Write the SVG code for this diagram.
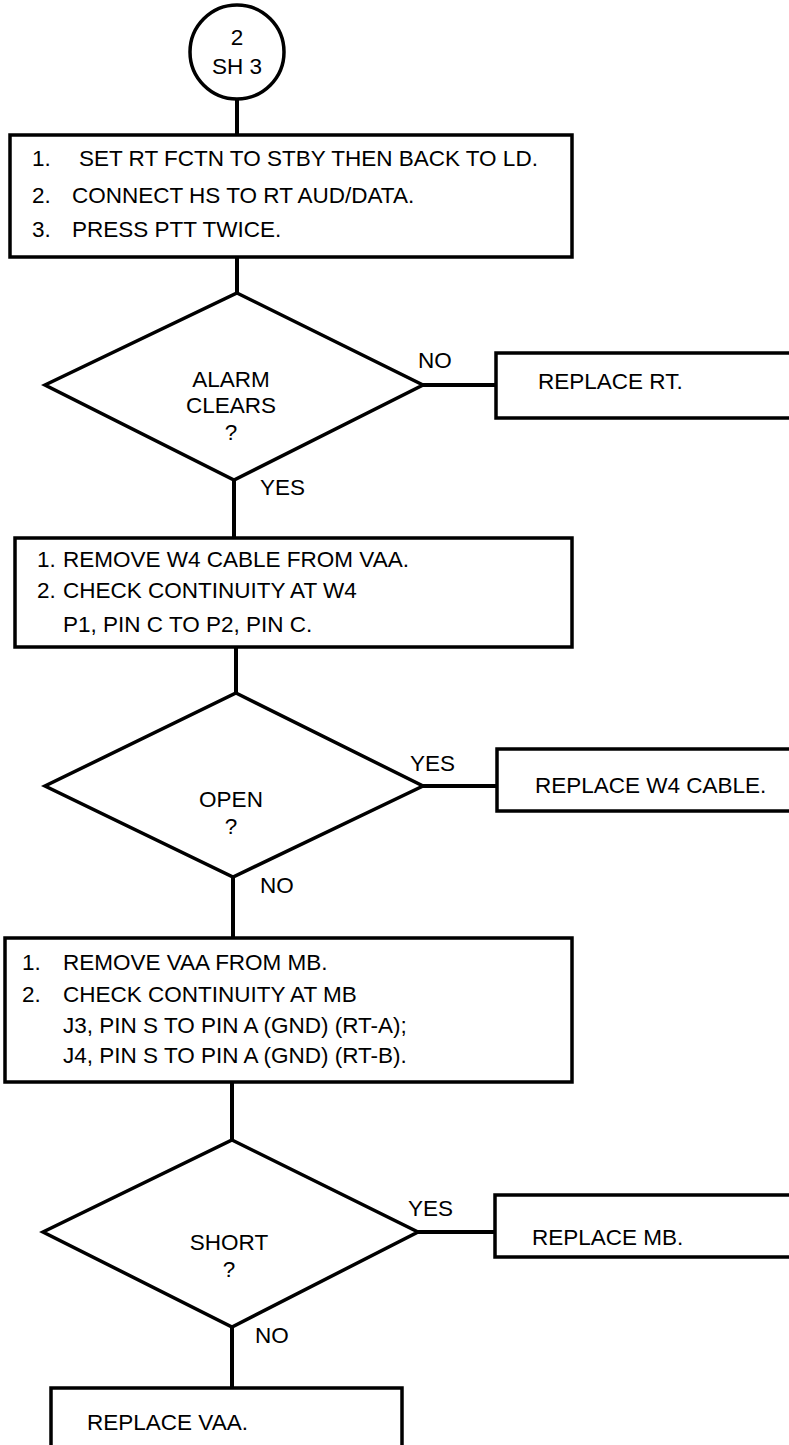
<svg xmlns="http://www.w3.org/2000/svg" width="789" height="1445" viewBox="0 0 789 1445">
<style>
.s{fill:#fff;stroke:#000;stroke-width:3.5}
.c{fill:none;stroke:#000;stroke-width:4}
text{font-family:"Liberation Sans",Arial,sans-serif;font-size:22.5px;fill:#000}
.m{text-anchor:middle}
</style>
<rect width="789" height="1445" fill="#fff"/>
<g id="connectors">
<line class="c" x1="237" y1="99" x2="237" y2="135"/>
<line class="c" x1="237" y1="257" x2="237" y2="293"/>
<line class="c" x1="423" y1="385" x2="496" y2="385"/>
<line class="c" x1="234" y1="480" x2="234" y2="538"/>
<line class="c" x1="236" y1="647" x2="236" y2="693"/>
<line class="c" x1="423" y1="786" x2="497" y2="786"/>
<line class="c" x1="233" y1="877" x2="233" y2="938"/>
<line class="c" x1="232" y1="1082" x2="232" y2="1140"/>
<line class="c" x1="418" y1="1232" x2="495" y2="1232"/>
<line class="c" x1="232" y1="1327" x2="232" y2="1388"/>
</g>
<g id="start">
<circle class="s" cx="237" cy="52" r="47"/>
<text class="m" x="237" y="45">2</text>
<text class="m" x="237" y="74">SH 3</text>
</g>
<g id="step1">
<rect class="s" x="10" y="135" width="562" height="122"/>
<text y="166"><tspan x="32">1.</tspan><tspan x="79">SET RT FCTN TO STBY THEN BACK TO LD.</tspan></text>
<text y="203"><tspan x="32">2.</tspan><tspan x="72">CONNECT HS TO RT AUD/DATA.</tspan></text>
<text y="237"><tspan x="32">3.</tspan><tspan x="72">PRESS PTT TWICE.</tspan></text>
</g>
<g id="dec1">
<polygon class="s" points="237,293 423,385 234,480 45,385"/>
<text class="m" x="231" y="387">ALARM</text>
<text class="m" x="231" y="413">CLEARS</text>
<text class="m" x="231" y="440">?</text>
</g>
<text x="418" y="368">NO</text>
<text x="260" y="495">YES</text>
<g id="replaceRT">
<rect class="s" x="496" y="353" width="310" height="65"/>
<text x="538" y="389">REPLACE RT.</text>
</g>
<g id="step2">
<rect class="s" x="15" y="538" width="557" height="109"/>
<text y="567"><tspan x="37">1.</tspan><tspan x="63">REMOVE W4 CABLE FROM VAA.</tspan></text>
<text y="598"><tspan x="37">2.</tspan><tspan x="63">CHECK CONTINUITY AT W4</tspan></text>
<text x="63" y="632">P1, PIN C TO P2, PIN C.</text>
</g>
<g id="dec2">
<polygon class="s" points="236,693 423,786 233,877 45,786"/>
<text class="m" x="231" y="807">OPEN</text>
<text class="m" x="231" y="834">?</text>
</g>
<text x="410" y="771">YES</text>
<text x="260" y="893">NO</text>
<g id="replaceW4">
<rect class="s" x="497" y="749" width="310" height="62"/>
<text x="535" y="793">REPLACE W4 CABLE.</text>
</g>
<g id="step3">
<rect class="s" x="5" y="938" width="567" height="144"/>
<text y="970"><tspan x="22">1.</tspan><tspan x="63">REMOVE VAA FROM MB.</tspan></text>
<text y="1002"><tspan x="22">2.</tspan><tspan x="63">CHECK CONTINUITY AT MB</tspan></text>
<text x="63" y="1033">J3, PIN S TO PIN A (GND) (RT-A);</text>
<text x="63" y="1063">J4, PIN S TO PIN A (GND) (RT-B).</text>
</g>
<g id="dec3">
<polygon class="s" points="232,1140 418,1232 232,1327 43,1232"/>
<text class="m" x="229" y="1250">SHORT</text>
<text class="m" x="229" y="1277">?</text>
</g>
<text x="408" y="1216">YES</text>
<text x="255" y="1343">NO</text>
<g id="replaceMB">
<rect class="s" x="495" y="1195" width="310" height="62"/>
<text x="532" y="1245">REPLACE MB.</text>
</g>
<g id="replaceVAA">
<rect class="s" x="51" y="1388" width="351" height="70"/>
<text x="87" y="1430">REPLACE VAA.</text>
</g>
</svg>
